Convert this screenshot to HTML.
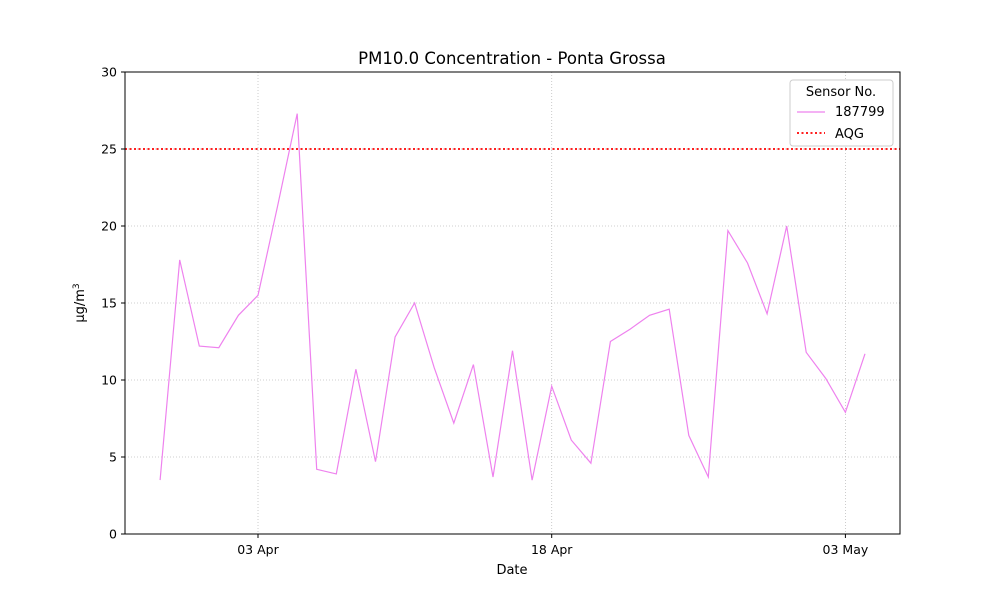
<!DOCTYPE html>
<html><head><meta charset="utf-8"><style>
body{margin:0;background:#fff;font-family:"Liberation Sans","DejaVu Sans",sans-serif;}
svg text{font-family:"DejaVu Sans","Liberation Sans",sans-serif;}
</style></head><body>
<svg id="chart" width="1000" height="600">
<rect width="1000" height="600" fill="#fff"/>
<g id="grid"></g><g id="plot"></g><g id="axes"></g>
</svg>
<script>
const values=[3.5,17.8,12.2,12.1,14.2,15.5,21.3,27.3,4.2,3.9,10.7,4.7,12.8,15.0,10.8,7.2,11.0,3.7,11.9,3.5,9.6,6.1,4.6,12.5,13.3,14.2,14.6,6.4,3.7,19.7,17.6,14.3,20.0,11.8,10.1,7.9,11.7];
const startDay=-5; // days relative to 03 Apr
const xTickDays=[0,15,30];
const xTickLabels=["03 Apr","18 Apr","03 May"];
const yTicks=[0,5,10,15,20,25,30];
const aqg=25;
const L=125,R=900,T=72,B=534;
const x=d=>258+(d)*19.58;
const y=v=>B-(v/30)*(B-T);
const NS="http://www.w3.org/2000/svg";
function mk(tag,attrs,parent,text){const e=document.createElementNS(NS,tag);for(const k in attrs)e.setAttribute(k,attrs[k]);if(text!==undefined)e.textContent=text;parent.appendChild(e);return e;}
const grid=document.getElementById('grid'),plot=document.getElementById('plot'),axes=document.getElementById('axes');
yTicks.forEach(t=>{
 if(t>0&&t<30){const g=mk('line',{x1:L,x2:R,y1:y(t),y2:y(t),stroke:'#b0b0b0','stroke-width':0.8,'stroke-dasharray':'1,2','opacity':0.8},grid);
 }
 const tk=mk('line',{x1:L-4,x2:L,y1:y(t),y2:y(t),stroke:'#000'},axes);
 
 const lb=mk('text',{x:L-8,y:y(t)+4.5,'text-anchor':'end','font-size':12.5},axes,t);
 
});
xTickDays.forEach((d,i)=>{
 const g=mk('line',{x1:x(d),x2:x(d),y1:T,y2:B,stroke:'#b0b0b0','stroke-width':0.8,'stroke-dasharray':'1,2','opacity':0.8},grid);
 
 const tk=mk('line',{x1:x(d),x2:x(d),y1:B,y2:B+4,stroke:'#000'},axes);
 
 const lb=mk('text',{x:x(d),y:B+20,'text-anchor':'middle','font-size':12.5},axes,xTickLabels[i]);
 
});
const aq=mk('line',{x1:L,x2:R,y1:y(aqg),y2:y(aqg),stroke:'#ff0000','stroke-width':1.8,'stroke-dasharray':'2,2.5'},plot);

const pts=values.map((v,i)=>x(startDay+i).toFixed(1)+','+y(v).toFixed(1)).join(' ');
const pl=mk('polyline',{points:pts,fill:'none',stroke:'#ee82ee','stroke-width':1.2},plot);

const fr=mk('rect',{x:L,y:T,width:R-L,height:B-T,fill:'none',stroke:'#000','stroke-width':1},axes);

const ti=mk('text',{x:512,y:64,'text-anchor':'middle','font-size':16.5},axes,'PM10.0 Concentration - Ponta Grossa');

const xl=mk('text',{x:512,y:574,'text-anchor':'middle','font-size':13},axes,'Date');

const yl=mk('text',{transform:'translate(84,303) rotate(-90)','text-anchor':'middle','font-size':13},axes);

yl.innerHTML='μg/m<tspan dy="-5" font-size="9">3</tspan>';
const lg=mk('g',{},axes);

mk('rect',{x:790,y:80,width:103,height:66,fill:'#fff',stroke:'#ccc',rx:3},lg);
mk('text',{x:841,y:96,'text-anchor':'middle','font-size':13},lg,'Sensor No.');
const e1=mk('g',{},lg);
mk('line',{x1:797,x2:825,y1:112,y2:112,stroke:'#ee82ee','stroke-width':1.2},e1);
mk('text',{x:835,y:116,'font-size':13},e1,'187799');
const e2=mk('g',{},lg);
mk('line',{x1:797,x2:825,y1:133,y2:133,stroke:'#ff0000','stroke-width':1.8,'stroke-dasharray':'2,2.5'},e2);
mk('text',{x:835,y:138,'font-size':13},e2,'AQG');
</script>
</body></html>
